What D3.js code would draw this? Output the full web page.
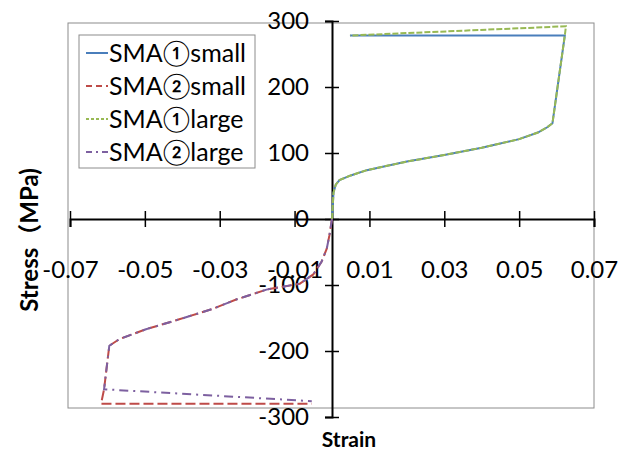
<!DOCTYPE html>
<html>
<head>
<meta charset="utf-8">
<script src="https://cdn.jsdelivr.net/npm/d3@7"></script>
<style>
  body { margin: 0; background: #fff; }
  svg { display: block; }
  text { font-family: Lato, "Noto Sans CJK JP", sans-serif; fill: #000; }
</style>
</head>
<body>
<svg width="632" height="455"></svg>
<script>
// loading branch (tension), shared by SMA1 small / large
var tensionStrain = [0, 0.0004, 0.001, 0.002, 0.005, 0.0093, 0.02, 0.03, 0.04, 0.05, 0.055, 0.0575, 0.0589, 0.0622]
var tensionStress = [0, 40, 52, 59, 66, 74, 87, 97, 108, 121, 131, 139, 145, 278]

// loading branch (compression), shared by SMA2 small / large
var compStrain = [0, -0.0007, -0.0014, -0.0028, -0.005, -0.0086, -0.0175, -0.0256, -0.0318, -0.0408, -0.0497, -0.0568, -0.0595, -0.0609]
var compStress = [0, -25, -45, -65, -84, -98, -107, -122, -136, -152, -167, -182, -192, -258]

// tail of each series
var sma1SmallTailStrain = [0.0048]
var sma1SmallTailStress = [278]
var sma1LargeTailStrain = [0.0625, 0.0048]
var sma1LargeTailStress = [292, 278]
var sma2SmallTailStrain = [-0.0617, -0.0054]
var sma2SmallTailStress = [-280, -280]
var sma2LargeTailStrain = [-0.0054]
var sma2LargeTailStress = [-276]

var xTicks = [-0.07, -0.05, -0.03, -0.01, 0.01, 0.03, 0.05, 0.07]
var yTicks = [-300, -200, -100, 0, 100, 200, 300]

var seriesNames = ["SMA\u2460small", "SMA\u2461small", "SMA\u2460large", "SMA\u2461large"]
var seriesColors = ["#4a7ebb", "#be4b48", "#98b954", "#7d60a0"]
var seriesDash = [null, "10,4", "6,2", "9,5,2,5"]
var legendDash = [null, "6,4", "3,2", "6,4,2,4"]

function zip(xs, ys) {
    return xs.map(function (x, i) { return [x, ys[i]] })
}

// plain hyphen instead of d3's unicode minus
function fmt(p) {
    var f = d3.format(p)
    return function (d) { return f(d).replace("\u2212", "-") }
}

var series = [
    zip(tensionStrain.concat(sma1SmallTailStrain), tensionStress.concat(sma1SmallTailStress)),
    zip(compStrain.concat(sma2SmallTailStrain), compStress.concat(sma2SmallTailStress)),
    zip(tensionStrain.concat(sma1LargeTailStrain), tensionStress.concat(sma1LargeTailStress)),
    zip(compStrain.concat(sma2LargeTailStrain), compStress.concat(sma2LargeTailStress))
]

var svg = d3.select("svg")

var x = d3.scaleLinear().domain([-0.07, 0.07]).range([70, 594])
var y = d3.scaleLinear().domain([-300, 300]).range([417, 21])

// plot area border
svg.append("rect")
    .attr("x", 68).attr("y", 23)
    .attr("width", 594 - 68).attr("height", 408 - 23)
    .attr("fill", "none")
    .attr("stroke", "#8c8c8c")
    .attr("stroke-width", 1)

var line = d3.line()
    .x(function (d) { return x(d[0]) })
    .y(function (d) { return y(d[1]) })

// x axis through stress = 0
var xAxis = svg.append("g")
    .attr("transform", "translate(0," + y(0) + ")")
    .call(d3.axisBottom(x).tickValues(xTicks).tickSize(8).tickFormat(fmt(".2f")))
xAxis.select(".domain").attr("stroke-width", 2)
xAxis.selectAll(".tick line").attr("y1", -8).attr("y2", 8).attr("stroke-width", 1.5)
xAxis.selectAll(".tick text")
    .attr("y", 51).attr("dy", "0.35em")
    .style("font-size", "24px").style("font-family", "Lato, sans-serif")

// y axis through strain = 0
var yAxis = svg.append("g")
    .attr("transform", "translate(" + x(0) + ",0)")
    .call(d3.axisLeft(y).tickValues(yTicks).tickSize(7).tickFormat(fmt("d")))
yAxis.select(".domain").attr("stroke-width", 2)
yAxis.selectAll(".tick line").attr("x1", -7).attr("x2", 7).attr("stroke-width", 1.5)
yAxis.selectAll(".tick text")
    .attr("x", -23)
    .style("font-size", "24px").style("font-family", "Lato, sans-serif")

svg.append("g")
    .selectAll("path")
    .data(series)
    .enter().append("path")
    .attr("d", line)
    .attr("fill", "none")
    .attr("stroke", function (d, i) { return seriesColors[i] })
    .attr("stroke-width", 2)
    .attr("stroke-dasharray", function (d, i) { return seriesDash[i] })

// axis titles
svg.append("text")
    .attr("transform", "translate(30,240) rotate(-90)")
    .attr("text-anchor", "middle")
    .attr("dy", "0.35em")
    .style("font-size", "24px").style("font-weight", "bold")
    .text("Stress\uff08MPa)")

svg.append("text")
    .attr("x", 349).attr("y", 440)
    .attr("text-anchor", "middle")
    .attr("dy", "0.35em")
    .style("font-size", "21px").style("font-weight", "bold")
    .text("Strain")

// legend
var legend = svg.append("g")
legend.append("rect")
    .attr("x", 79).attr("y", 35)
    .attr("width", 176).attr("height", 133)
    .attr("fill", "#fff")
    .attr("stroke", "#8c8c8c")

var item = legend.selectAll(".item")
    .data(seriesNames)
    .enter().append("g")
    .attr("transform", function (d, i) { return "translate(0," + (53 + i * 33) + ")" })

item.append("line")
    .attr("x1", 86).attr("x2", 108)
    .attr("stroke", function (d, i) { return seriesColors[i] })
    .attr("stroke-width", 2)
    .attr("stroke-dasharray", function (d, i) { return legendDash[i] })

item.append("text")
    .attr("x", 109)
    .attr("dy", "0.35em")
    .style("font-size", "25px")
    .text(function (d) { return d })
</script>
</body>
</html>
